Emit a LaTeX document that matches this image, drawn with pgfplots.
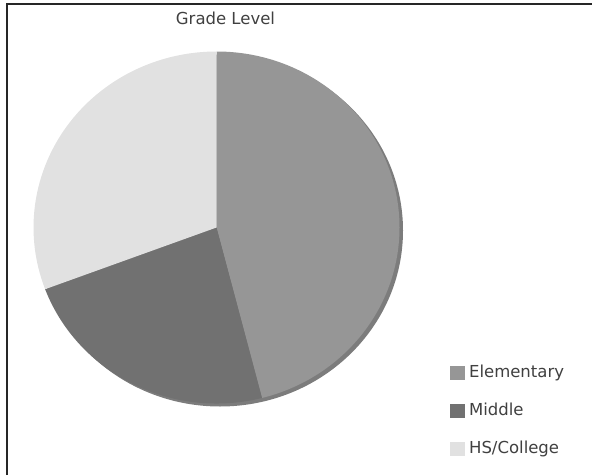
\documentclass[border=0pt]{standalone}
\usepackage{pgfplots}
\usepackage{pgfplotstable}
\pgfplotsset{compat=1.18}
\usepackage{fontspec}
\setmainfont{DejaVu Sans}
\definecolor{elem}{HTML}{969696}
\definecolor{midd}{HTML}{717171}
\definecolor{hsc}{HTML}{E1E1E1}
\definecolor{shad}{HTML}{7C7C7C}
\definecolor{txt}{HTML}{404040}
\pgfplotstableread{
label value
Elementary 46.0
Middle 23.3
HS/College 30.7
}\datatable
\begin{document}
\begin{tikzpicture}
\useasboundingbox (0,0) rectangle (592pt,475pt);
\pgfplotstablegetelem{0}{value}\of\datatable \let\va\pgfplotsretval
\pgfplotstablegetelem{1}{value}\of\datatable \let\vb\pgfplotsretval
\pgfplotstablegetelem{2}{value}\of\datatable \let\vc\pgfplotsretval
\pgfmathsetmacro\aA{90}
\pgfmathsetmacro\aB{90-\va*3.6}
\pgfmathsetmacro\aC{\aB-\vb*3.6}
\pgfmathsetmacro\aD{\aC-\vc*3.6}
\def\cx{216.5}\def\cy{247.5}
\begin{axis}[
  at={(0,0)}, anchor=south west,
  scale only axis, width=592pt, height=475pt,
  xmin=0, xmax=592, ymin=0, ymax=475,
  hide axis, clip=false,
  legend style={at={(axis cs:450,475-363)}, anchor=north west, draw=none, fill=none,
    font=\fontsize{16.5}{19}\selectfont\color{txt}, row sep=20pt, inner sep=0pt,
    nodes={inner sep=2pt}},
  legend cell align=left,
  legend image code/.code={\fill[#1] (0pt,-6.5pt) rectangle (13.5pt,6.5pt);},
  /tikz/every odd column/.append style={column sep=3pt},
]
\addlegendimage{elem, fill=elem}
\addlegendentry{Elementary}
\addlegendimage{midd, fill=midd}
\addlegendentry{Middle}
\addlegendimage{hsc, fill=hsc}
\addlegendentry{HS/College}
\fill[shad] (axis cs:\cx+3.5,\cy-3) ellipse[x radius=183pt, y radius=176pt];
\fill[elem] (axis cs:\cx,\cy) -- ([shift={(\aA:183pt and 176pt)}]axis cs:\cx,\cy) arc[start angle=\aA, end angle=\aB, x radius=183pt, y radius=176pt] -- cycle;
\fill[midd] (axis cs:\cx,\cy) -- ([shift={(\aB:183pt and 176pt)}]axis cs:\cx,\cy) arc[start angle=\aB, end angle=\aC, x radius=183pt, y radius=176pt] -- cycle;
\fill[hsc] (axis cs:\cx,\cy) -- ([shift={(\aC:183pt and 176pt)}]axis cs:\cx,\cy) arc[start angle=\aC, end angle=\aD, x radius=183pt, y radius=176pt] -- cycle;
\node[text=txt, font=\fontsize{16.5}{19}\selectfont, anchor=base] at (axis cs:225.5,475-25) {Grade Level};
\draw[color=black!85, line width=1.3pt] (axis cs:7,0) -- (axis cs:7,471) -- (axis cs:592,471);
\end{axis}
\end{tikzpicture}
\end{document}
